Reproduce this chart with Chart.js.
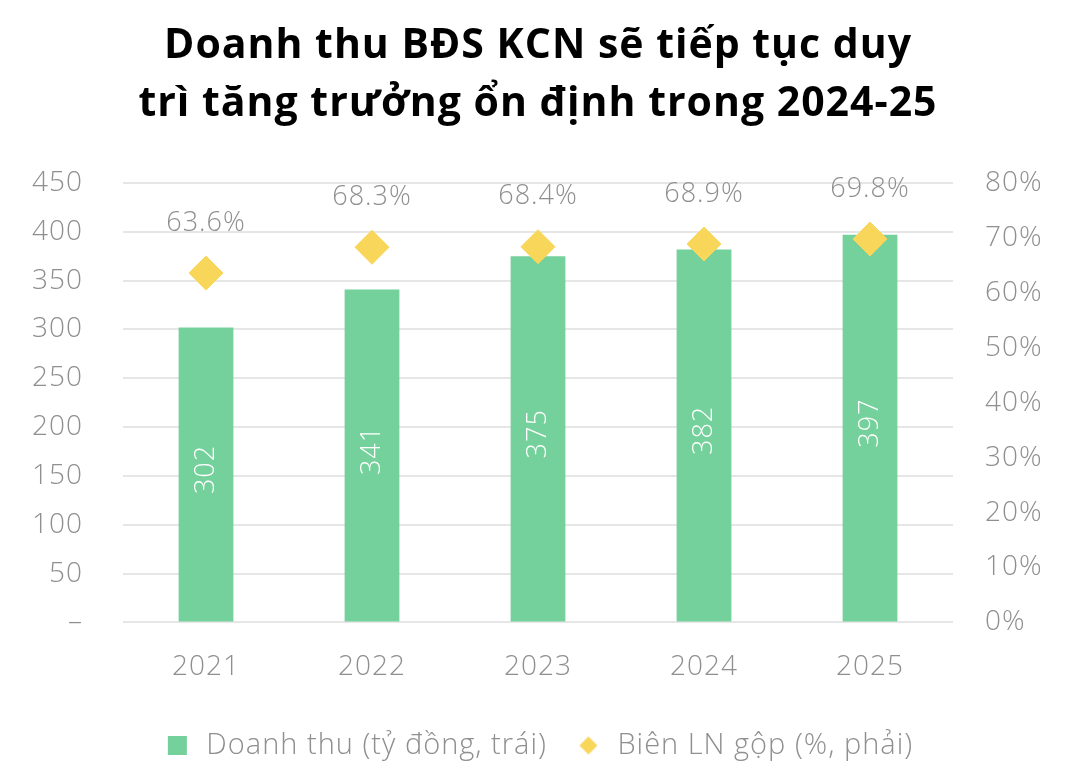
<!DOCTYPE html>
<html lang="vi">
<head>
  <meta charset="utf-8" />
  <title>Doanh thu BĐS KCN</title>
  <script src="https://cdn.jsdelivr.net/npm/chart.js@4.4.1/dist/chart.umd.min.js"></script>
  <style>
    html, body { margin: 0; padding: 0; background: #fff; }
    #wrap { width: 1076px; height: 780px; }
  </style>
</head>
<body>
  <div id="wrap"><canvas id="myChart" width="1076" height="780"></canvas></div>
  <script>
    // data
    const years = ['2021', '2022', '2023', '2024', '2025'];
    const revenue = [302, 341, 375, 382, 397];               // tỷ đồng, left axis
    const grossMargin = [0.636, 0.683, 0.684, 0.689, 0.698]; // right axis

    const FONT = '"Open Sans", Lato, sans-serif';
    const GREY = '#8f8f8f';
    const GREEN = '#74d19b';
    const YELLOW = '#f8d65a';

    // small diamond used only in the legend
    const legendDiamond = document.createElement('canvas');
    legendDiamond.width = 20;
    legendDiamond.height = 20;
    (function () {
      const c = legendDiamond.getContext('2d');
      c.fillStyle = YELLOW;
      c.beginPath();
      c.moveTo(10, 1); c.lineTo(19, 10); c.lineTo(10, 19); c.lineTo(1, 10);
      c.closePath();
      c.fill();
    })();

    // the original font is wide, spread the letters a bit
    const spacing = {
      id: 'spacing',
      beforeUpdate(chart) { chart.ctx.letterSpacing = '1px'; },
      beforeDraw(chart) { chart.ctx.letterSpacing = '1px'; }
    };

    // labels on top of the diamonds and inside the bars
    const valueLabels = {
      id: 'valueLabels',
      afterDatasetsDraw(chart) {
        const ctx = chart.ctx;
        ctx.save();
        ctx.font = '300 27px ' + FONT;
        ctx.textAlign = 'center';
        ctx.textBaseline = 'middle';

        const bars = chart.getDatasetMeta(0).data;
        bars.forEach(function (el, i) {
          ctx.save();
          ctx.translate(el.x, (el.y + el.base) / 2 - 5);
          ctx.rotate(-Math.PI / 2);
          ctx.fillStyle = '#ffffff';
          ctx.fillText(String(revenue[i]), 0, 0);
          ctx.restore();
        });

        const pts = chart.getDatasetMeta(1).data;
        pts.forEach(function (el, i) {
          ctx.fillStyle = GREY;
          ctx.fillText((grossMargin[i] * 100).toFixed(1) + '%', el.x, el.y - 50);
        });
        ctx.restore();
      }
    };

    const ctx = document.getElementById('myChart').getContext('2d');
    const myChart = new Chart(ctx, {
      data: {
        labels: years,
        datasets: [{
          type: 'bar',
          label: 'Doanh thu (tỷ đồng, trái)',
          data: revenue,
          backgroundColor: GREEN,
          pointStyle: 'rect',
          yAxisID: 'y',
          categoryPercentage: 1,
          barPercentage: 0.33,
          order: 2
        }, {
          type: 'line',
          label: 'Biên LN gộp (%, phải)',
          data: grossMargin,
          showLine: false,
          yAxisID: 'y1',
          pointStyle: 'rectRot',
          pointRadius: 17,
          pointHoverRadius: 17,
          pointBackgroundColor: YELLOW,
          pointBorderColor: YELLOW,
          pointBorderWidth: 1,
          backgroundColor: YELLOW,
          borderColor: YELLOW,
          order: 1
        }]
      },
      options: {
        responsive: false,
        animation: false,
        layout: { padding: { top: 17, bottom: 10, left: 0, right: 0 } },
        plugins: {
          title: {
            display: true,
            text: ['Doanh thu BĐS KCN sẽ tiếp tục duy', 'trì tăng trưởng ổn định trong 2024-25'],
            color: '#000000',
            font: { family: FONT, size: 41, weight: 'bold', lineHeight: 1.415 },
            padding: { top: 0, bottom: 50 }
          },
          legend: {
            position: 'bottom',
            labels: {
              usePointStyle: true,
              boxHeight: 19,
              color: GREY,
              font: { family: FONT, size: 29, weight: '300' },
              padding: 27,
              sort: function (a, b) { return a.datasetIndex - b.datasetIndex; },
              generateLabels: function (chart) {
                const items = Chart.defaults.plugins.legend.labels.generateLabels(chart);
                items.forEach(function (it) {
                  if (it.datasetIndex === 1) it.pointStyle = legendDiamond;
                });
                return items;
              }
            }
          },
          tooltip: { enabled: false }
        },
        scales: {
          x: {
            grid: { display: false },
            border: { display: false },
            ticks: { color: GREY, font: { family: FONT, size: 28, weight: '300' }, padding: 20 }
          },
          y: {
            position: 'left',
            min: 0,
            max: 450,
            ticks: {
              stepSize: 50,
              color: GREY,
              font: { family: FONT, size: 28, weight: '300' },
              padding: 40,
              callback: function (v) { return v === 0 ? '–' : v; }
            },
            grid: { color: '#e6e6e6', lineWidth: 2, drawTicks: false },
            border: { display: false },
            afterFit: function (s) { s.width = 123; }
          },
          y1: {
            position: 'right',
            min: 0,
            max: 0.8,
            ticks: {
              stepSize: 0.1,
              color: GREY,
              font: { family: FONT, size: 28, weight: '300' },
              padding: 32,
              callback: function (v) { return Math.round(v * 100) + '%'; }
            },
            grid: { drawOnChartArea: false, drawTicks: false },
            border: { display: false },
            afterFit: function (s) { s.width = 123; }
          }
        }
      },
      plugins: [spacing, valueLabels]
    });
  </script>
</body>
</html>
